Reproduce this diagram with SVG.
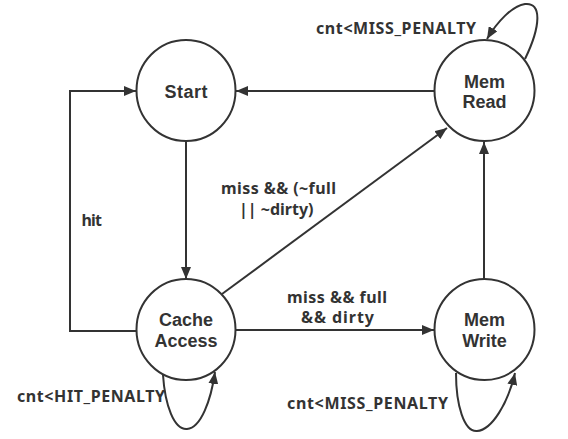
<svg xmlns="http://www.w3.org/2000/svg" width="568" height="439" viewBox="0 0 568 439">
<style>
.node ellipse{fill:#fff;stroke:#333;stroke-width:2}
.node text{font-family:"Liberation Sans",Arial,sans-serif;font-weight:bold;font-size:18px;fill:#333;text-anchor:middle}
.edge{fill:none;stroke:#333;stroke-width:2}
.lbl{font-family:"Noto Sans","DejaVu Sans",sans-serif;font-weight:bold;font-size:16px;fill:#333}
</style>
<defs>
<marker id="arr" viewBox="0 0 12 10" refX="12" refY="5" markerWidth="12" markerHeight="10" markerUnits="userSpaceOnUse" orient="auto">
<path d="M0,0 L12,5 L0,10 Z" fill="#333"/>
</marker>
</defs>
<rect width="568" height="439" fill="#fff"/>
<g id="connectors">
<path class="edge" d="M434,91 L236,91" marker-end="url(#arr)"/>
<path class="edge" d="M186,141 L186,279" marker-end="url(#arr)"/>
<path class="edge" d="M136,331 L70,331 L70,91 L136,91" marker-end="url(#arr)"/>
<path class="edge" d="M222,294 L447,128" marker-end="url(#arr)"/>
<path class="edge" d="M236,330 L434,330" marker-end="url(#arr)"/>
<path class="edge" d="M484,279 L484,142" marker-end="url(#arr)"/>
<path class="edge" d="M525,59 C541,26 542,2 525,4 C512,6 497,22 487,39" marker-end="url(#arr)"/>
<path class="edge" d="M163,375 C165,405 174,430 187,429 C201,428 211,400 215,372" marker-end="url(#arr)"/>
<path class="edge" d="M456,373 C456,405 464,432 477,431 C492,430 508,403 515,373" marker-end="url(#arr)"/>
<text class="lbl" x="316" y="34" textLength="160">cnt&lt;MISS_PENALTY</text>
<text class="lbl" x="81.5" y="225.5" textLength="20.5">hit</text>
<text class="lbl" x="221" y="194" textLength="115">miss &amp;&amp; (~full</text>
<text class="lbl" x="239" y="215">|| ~dirty)</text>
<text class="lbl" x="287" y="303" textLength="100">miss &amp;&amp; full</text>
<text class="lbl" x="301" y="323" textLength="73">&amp;&amp; dirty</text>
<text class="lbl" x="17" y="402" textLength="148">cnt&lt;HIT_PENALTY</text>
<text class="lbl" x="287" y="409" textLength="161">cnt&lt;MISS_PENALTY</text>
</g>
<g id="start" class="node">
<ellipse cx="186" cy="90.5" rx="49.5" ry="50.5"/>
<text x="186" y="98" textLength="43">Start</text>
</g>
<g id="memread" class="node">
<ellipse cx="484.5" cy="90.5" rx="50" ry="50.5"/>
<text x="484.5" y="87.5">Mem<tspan x="484.5" dy="20.5">Read</tspan></text>
</g>
<g id="cacheaccess" class="node">
<ellipse cx="186" cy="329.5" rx="49.5" ry="50.5"/>
<text x="186" y="326">Cache<tspan x="186" dy="20.5">Access</tspan></text>
</g>
<g id="memwrite" class="node">
<ellipse cx="484.5" cy="329.5" rx="50" ry="50.5"/>
<text x="484.5" y="326">Mem<tspan x="484.5" dy="20.5">Write</tspan></text>
</g>
</svg>
